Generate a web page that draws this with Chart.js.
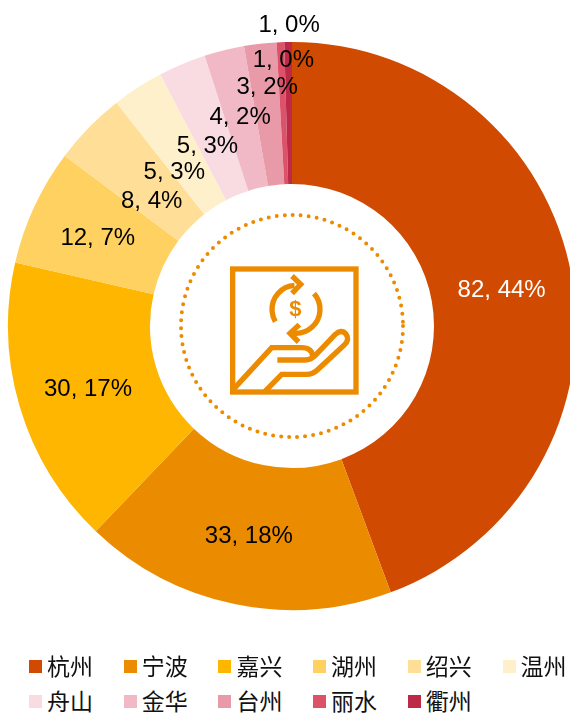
<!DOCTYPE html>
<html>
<head>
<meta charset="utf-8">
<style>
  html, body { margin: 0; padding: 0; width: 570px; height: 713px; overflow: hidden; background: #fff; }
  #chart { position: absolute; left: 0; top: 0; }
  .legend-item { position: absolute; height: 26px; font: 23px "Noto Sans CJK SC"; color: #111; white-space: nowrap; }
  .legend-item span { position: absolute; left: 0; top: 6px; width: 13px; height: 13px; }
  .legend-item b { position: absolute; left: 18px; top: -6px; font-weight: normal; line-height: 34px; }
</style>
</head>
<body>
<canvas id="chart" width="584" height="652"></canvas>
<div id="legend"></div>
<script src="https://cdn.jsdelivr.net/npm/chart.js@4"></script>
<script>
const categories = ["杭州", "宁波", "嘉兴", "湖州", "绍兴", "温州", "舟山", "金华", "台州", "丽水", "衢州"];
// slice sizes, the labels below are rounded
const sliceValues = [82, 32.9, 30.4, 12.3, 7.7, 5.4, 5, 4.2, 3.4, 0.8, 0.8];
const shownValues = [82, 33, 30, 12, 8, 5, 5, 4, 3, 1, 1];
const shownPercents = [44, 18, 17, 7, 4, 3, 3, 2, 2, 0, 0];
const colors = ["#D04A02", "#EB8C00", "#FFB600", "#FFD160", "#FFDF98", "#FFF0CC", "#F8DCE2", "#F1B9C5", "#E89AA8", "#DC5269", "#BC2A47"];

// labels near the top were dragged off the slice centre, [dx, dy]
const labelShift = [[0, 0], [0, 0], [0, 0], [-1, 0], [12, 22], [-2, 23], [-2, 15], [-1, -4], [-1, -29], [0, -55], [0, -90]];

const orange = "#ED8B00";

const labelPlugin = {
  id: "sliceLabels",
  afterDatasetsDraw(chart) {
    const ctx = chart.ctx;
    const arcs = chart.getDatasetMeta(0).data;
    ctx.save();
    ctx.font = '24px "Liberation Sans"';
    ctx.textAlign = "center";
    ctx.textBaseline = "middle";
    arcs.forEach((arc, i) => {
      const pos = arc.tooltipPosition();
      ctx.fillStyle = i === 0 ? "#fff" : "#000";
      ctx.fillText(shownValues[i] + ", " + shownPercents[i] + "%", pos.x + labelShift[i][0], pos.y + 2 + labelShift[i][1]);
    });
    ctx.restore();
  },
};

const iconPlugin = {
  id: "centreIcon",
  afterDraw(chart) {
    const ctx = chart.ctx;
    const arc = chart.getDatasetMeta(0).data[0];

    // dotted ring
    ctx.save();
    ctx.strokeStyle = orange;
    ctx.lineWidth = 4;
    ctx.lineCap = "round";
    ctx.setLineDash([0, 8.05]);
    ctx.beginPath();
    ctx.arc(arc.x, arc.y, 111, 0, Math.PI * 2);
    ctx.stroke();
    ctx.restore();

    // icon, drawn in 3x units
    ctx.save();
    ctx.translate(arc.x - 122, arc.y - 96);
    ctx.scale(1 / 3, 1 / 3);
    ctx.strokeStyle = orange;
    ctx.fillStyle = orange;
    ctx.lineWidth = 16;
    ctx.strokeRect(188, 117, 370, 369);

    ctx.lineWidth = 16;
    ctx.beginPath();
    ctx.arc(378, 238, 72, Math.PI * 1.48, Math.PI * 0.83, true);
    ctx.stroke();
    ctx.beginPath();
    ctx.arc(378, 238, 72, Math.PI * 1.77, Math.PI * 0.53, false);
    ctx.stroke();
    ctx.beginPath();
    ctx.moveTo(366, 138);
    ctx.lineTo(392, 163);
    ctx.lineTo(366, 190);
    ctx.moveTo(388, 284);
    ctx.lineTo(360, 310);
    ctx.lineTo(386, 336);
    ctx.stroke();

    ctx.lineWidth = 16;
    ctx.beginPath();
    ctx.moveTo(192, 476);
    ctx.lineTo(305, 353);
    ctx.lineTo(395, 353);
    ctx.quadraticCurveTo(425, 353, 428, 378);
    ctx.stroke();
    ctx.beginPath();
    ctx.moveTo(322, 390);
    ctx.lineTo(405, 390);
    ctx.quadraticCurveTo(424, 390, 436, 376);
    ctx.lineTo(495, 314);
    ctx.quadraticCurveTo(514, 296, 528, 312);
    ctx.quadraticCurveTo(540, 330, 522, 346);
    ctx.lineTo(442, 420);
    ctx.quadraticCurveTo(428, 433, 410, 433);
    ctx.lineTo(335, 433);
    ctx.lineTo(285, 484);
    ctx.stroke();

    ctx.font = 'bold 66px "Liberation Sans"';
    ctx.textAlign = "center";
    ctx.textBaseline = "middle";
    ctx.fillText("$", 376, 240);
    ctx.restore();
  },
};

new Chart(document.getElementById("chart"), {
  type: "doughnut",
  data: {
    labels: categories,
    datasets: [{ data: sliceValues, backgroundColor: colors, borderWidth: 0 }],
  },
  options: {
    responsive: false,
    animation: false,
    cutout: "50%",
    layout: { padding: { left: 8, right: 8, top: 42, bottom: 42 } },
    plugins: { legend: { display: false }, tooltip: { enabled: false } },
  },
  plugins: [labelPlugin, iconPlugin],
});

// legend under the chart, six to a row
const legendDiv = document.getElementById("legend");
categories.forEach((name, i) => {
  const item = document.createElement("div");
  item.className = "legend-item";
  item.style.left = 29 + (i % 6) * 94.7 + "px";
  item.style.top = 654 + Math.floor(i / 6) * 35 + "px";
  const box = document.createElement("span");
  box.style.background = colors[i];
  const text = document.createElement("b");
  text.textContent = name;
  item.appendChild(box);
  item.appendChild(text);
  legendDiv.appendChild(item);
});
</script>
</body>
</html>
